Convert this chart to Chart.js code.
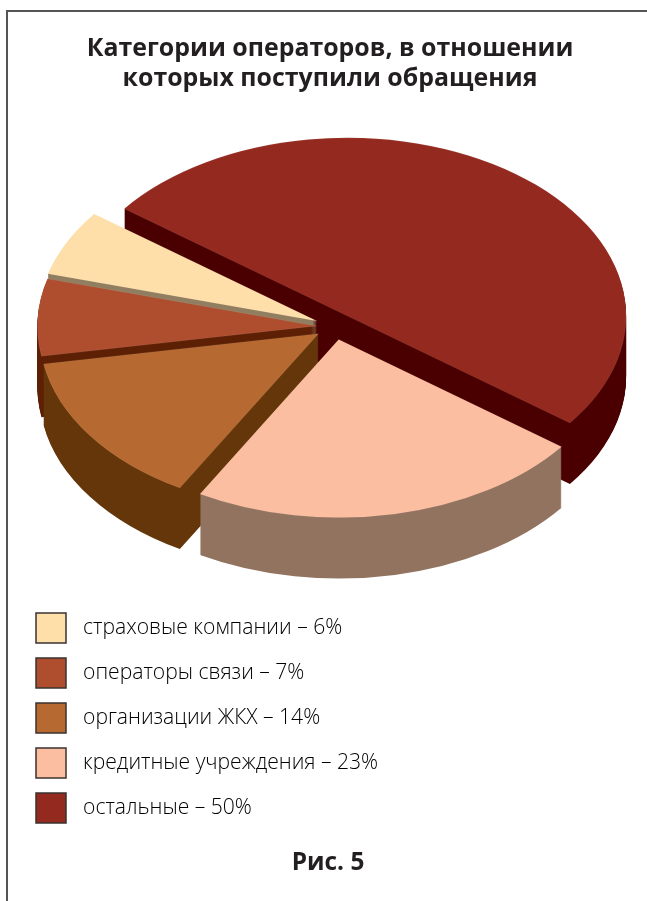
<!DOCTYPE html>
<html lang="ru">
<head>
<meta charset="utf-8">
<style>
html,body{margin:0;padding:0;background:#fff;width:647px;height:901px;overflow:hidden}
#frame{position:absolute;left:6px;top:10px;width:641px;height:891px;border-left:2px solid #555;border-top:2px solid #555;box-sizing:border-box}
canvas{position:absolute;left:0;top:0}
</style>
<script src="https://cdn.jsdelivr.net/npm/chart.js@4"></script>
</head>
<body>
<div id="frame"></div>
<canvas id="c" width="647" height="901"></canvas>
<script>
const titleLines = ["Категории операторов, в отношении", "которых поступили обращения"];
const caption = "Рис. 5";
const categories = ["остальные", "кредитные учреждения", "организации ЖКХ", "операторы связи", "страховые компании"];
const shares = [50, 23, 14, 7, 6];
const topColors = ["#942a1f", "#fcbea0", "#b66a32", "#ae4e2f", "#fedea9"];
const wallColors = ["#4a0000", "#927360", "#643609", "#5d2005", "#917e60"];
const drawOrder = [0, 4, 3, 2, 1];
const explodeRatios = [0.075, 0.075, 0.07, 0.065, 0.07];

const CENTER_X = 334.5, CENTER_Y = 326.5, RADIUS_X = 279, RADIUS_Y = 178, DEPTH = 61;
const LEGEND_TOP = 613, CAPTION_SHIFT_X = -2;

const pie3d = {
  id: "pie3d",
  afterUpdate(chart) {
    const lg = chart.legend;
    const hb0 = lg.legendHitBoxes[0];
    const delta = LEGEND_TOP - (hb0.top + (hb0.height - 30) / 2);
    lg.bottom += delta;
    lg.legendHitBoxes.forEach(hb => { hb.top += delta; });
    const sub = chart.boxes.find(b => b.options && b.options.text === caption);
    if (sub) { sub.left += CAPTION_SHIFT_X; sub.right += CAPTION_SHIFT_X; }
  },
  beforeDatasetsDraw(chart) {
    const ctx = chart.ctx;
    const arcs = chart.getDatasetMeta(0).data;
    const layer = document.createElement("canvas");
    layer.width = chart.width;
    layer.height = chart.height;
    const lc = layer.getContext("2d");
    drawOrder.forEach(i => {
      const arc = arcs[i];
      const mid = (arc.startAngle + arc.endAngle) / 2;
      const sx = RADIUS_X / arc.outerRadius, sy = RADIUS_Y / arc.outerRadius;
      const ox = CENTER_X + Math.cos(mid) * RADIUS_X * explodeRatios[i];
      const oy = CENTER_Y + Math.sin(mid) * RADIUS_Y * explodeRatios[i];
      const paint = (c, dy, color, edge) => {
        c.save();
        c.translate(ox, oy + dy);
        c.scale(sx, sy);
        c.translate(-arc.x, -arc.y);
        const o = arc.options;
        const keep = [o.backgroundColor, o.borderColor, o.borderWidth];
        o.backgroundColor = color;
        o.borderColor = edge ? "rgba(255,255,255,0.15)" : color;
        o.borderWidth = edge ? 0.6 : 0;
        arc.draw(c);
        [o.backgroundColor, o.borderColor, o.borderWidth] = keep;
        c.restore();
      };
      // the wall is a stack of copies of the slice, recoloured as one flat layer
      lc.globalCompositeOperation = "source-over";
      lc.clearRect(0, 0, layer.width, layer.height);
      for (let d = DEPTH; d > 0; d -= 1) paint(lc, d, "#000", false);
      lc.globalCompositeOperation = "source-in";
      lc.fillStyle = wallColors[i];
      lc.fillRect(0, 0, layer.width, layer.height);
      ctx.drawImage(layer, 0, 0);
      paint(ctx, 0, topColors[i], true);
    });
    return false;
  },
  afterDraw(chart) {
    const ctx = chart.ctx, lg = chart.legend;
    lg.legendItems.forEach((item, k) => {
      const hb = lg.legendHitBoxes[k];
      ctx.save();
      ctx.fillStyle = item.swatch;
      ctx.strokeStyle = "#3a3230";
      ctx.lineWidth = 1.5;
      const y = hb.top + (hb.height - 30) / 2;
      ctx.fillRect(hb.left, y, 30, 30);
      ctx.strokeRect(hb.left, y, 30, 30);
      ctx.restore();
    });
  }
};

new Chart(document.getElementById("c"), {
  type: "pie",
  data: {
    labels: categories,
    datasets: [{ data: shares, backgroundColor: topColors, borderWidth: 0 }]
  },
  options: {
    responsive: false,
    animation: false,
    rotation: -53,
    layout: { padding: { left: 21, right: 8, top: 12, bottom: 23 } },
    plugins: {
      tooltip: { enabled: false },
      title: {
        display: true,
        text: titleLines,
        color: "#231f20",
        font: { family: "'Open Sans'", size: 24.9, weight: "bold", lineHeight: 1.2 },
        padding: { top: 22, bottom: 10 }
      },
      subtitle: {
        display: true,
        position: "bottom",
        text: caption,
        color: "#231f20",
        font: { family: "'Open Sans'", size: 24.4, weight: "bold", lineHeight: 1.2 },
        padding: { top: 20, bottom: 0 }
      },
      legend: {
        position: "chartArea",
        align: "end",
        reverse: true,
        labels: {
          color: "#444444",
          font: { family: "'Open Sans'", size: 21.1, weight: "300" },
          boxWidth: 36.5,
          boxHeight: 30,
          padding: 15,
          generateLabels(chart) {
            return categories.map((name, i) => ({
              text: name + " – " + shares[i] + "%",
              fillStyle: "rgba(0,0,0,0)",
              strokeStyle: "rgba(0,0,0,0)",
              lineWidth: 0,
              swatch: topColors[i],
              index: i,
              hidden: false
            }));
          }
        }
      }
    }
  },
  plugins: [pie3d]
});
</script>
</body>
</html>
